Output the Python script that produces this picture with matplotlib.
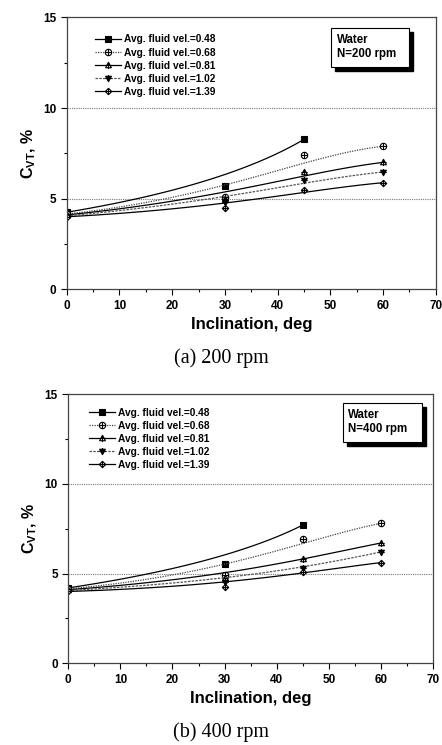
"""Tracer volume concentration vs inclination, two rotation speeds."""

from math import comb

import matplotlib
matplotlib.use("Agg")
import matplotlib.pyplot as plt
import numpy as np
from matplotlib.path import Path
from matplotlib.patches import Rectangle

plt.rcParams["font.family"] = ["Liberation Sans", "DejaVu Sans"]
plt.rcParams["font.weight"] = "bold"
plt.rcParams["mathtext.fontset"] = "custom"
plt.rcParams["mathtext.bf"] = "Liberation Sans:bold"
plt.rcParams["mathtext.rm"] = "Liberation Sans:bold"

VELOCITIES = ["0.48", "0.68", "0.81", "1.02", "1.39"]

# inclination (deg) for each series
X_SHORT = [0, 30, 45]
X_LONG = [0, 30, 45, 60]

# C_VT, % at 200 rpm
CVT_200 = {
    "0.48": [4.25, 5.70, 8.27],
    "0.68": [4.15, 5.11, 7.39, 7.89],
    "0.81": [4.10, 5.00, 6.47, 7.00],
    "1.02": [4.05, 4.83, 6.03, 6.47],
    "1.39": [4.00, 4.47, 5.48, 5.88],
}

# C_VT, % at 400 rpm
CVT_400 = {
    "0.48": [4.20, 5.51, 7.70],
    "0.68": [4.15, 4.92, 6.90, 7.80],
    "0.81": [4.10, 4.73, 5.83, 6.70],
    "1.02": [4.05, 4.55, 5.29, 6.20],
    "1.39": [4.00, 4.27, 5.07, 5.61],
}


def crossed(verts):
    """Closed outline plus a vertical and horizontal bar."""
    outline = Path(verts + [verts[0]], closed=True)
    bars = Path([(-1, 0), (1, 0), (0, -1), (0, 1)],
                [Path.MOVETO, Path.LINETO, Path.MOVETO, Path.LINETO])
    return Path.make_compound_path(outline, bars)


circle_plus = Path.make_compound_path(
    Path.unit_circle(),
    Path([(-1, 0), (1, 0), (0, -1), (0, 1)],
         [Path.MOVETO, Path.LINETO, Path.MOVETO, Path.LINETO]),
)
tri_up = crossed([(0, 1), (-0.9, -0.7), (0.9, -0.7)])
tri_down = crossed([(0, -1), (-0.9, 0.7), (0.9, 0.7)])
diamond_plus = crossed([(0, 1), (1, 0), (0, -1), (-1, 0)])

STYLES = {
    "0.48": dict(marker="s", mfc="black", ls="-", color="black", ms=3.8),
    "0.68": dict(marker=circle_plus, mfc="white", ls=(0, (1, 1)), color="#444444", ms=4.6),
    "0.81": dict(marker=tri_up, mfc="white", ls="-", color="black", ms=4.6),
    "1.02": dict(marker=tri_down, mfc="black", ls=(0, (2, 1)), color="#555555", ms=4.6),
    "1.39": dict(marker=diamond_plus, mfc="white", ls="-", color="black", ms=4.6),
}


def bezier(xs, ys, n=120):
    xs, ys = np.asarray(xs, float), np.asarray(ys, float)
    k = len(xs) - 1
    t = np.linspace(0, 1, n)
    basis = np.array([comb(k, i) * t**i * (1 - t) ** (k - i) for i in range(k + 1)])
    return basis.T @ xs, basis.T @ ys


def draw_panel(ax, data, rpm, box, legend_anchor):
    for vel in VELOCITIES:
        ys = data[vel]
        xs = X_SHORT if len(ys) == 3 else X_LONG
        st = STYLES[vel]
        cx, cy = bezier(xs, ys)
        ax.plot(cx, cy, ls=st["ls"], color=st["color"], lw=0.9)
        ax.plot(xs, ys, ls="none", marker=st["marker"], ms=st["ms"],
                mfc=st["mfc"], mec="black", mew=0.8)
        ax.plot([], [], ls=st["ls"], color=st["color"], lw=0.9,
                marker=st["marker"], ms=st["ms"], mfc=st["mfc"], mec="black",
                mew=0.8, label=f"Avg. fluid vel.={vel}")

    ax.set_xlim(0, 70)
    ax.set_ylim(0, 15)
    ax.set_xticks(range(0, 71, 10))
    ax.set_xticks(range(5, 70, 10), minor=True)
    ax.set_yticks([0, 5, 10, 15])
    ax.set_yticks([2.5, 7.5, 12.5], minor=True)
    ax.tick_params(which="major", direction="out", length=4, width=0.8, labelsize=8.5, pad=3.5)
    ax.tick_params(which="minor", direction="out", length=2.5, width=0.8)
    for lbl in ax.get_xticklabels() + ax.get_yticklabels():
        lbl.set_fontweight("bold")
    for y in (5, 10):
        ax.axhline(y, color="#777777", ls=(0, (1, 1)), lw=0.8, zorder=0)
    for sp in ax.spines.values():
        sp.set_linewidth(0.9)
        sp.set_color("#444444")

    ax.set_xlabel("Inclination, deg", fontsize=12, fontweight="bold", labelpad=4)
    ax.set_ylabel(r"C$_{\mathbf{VT}}$, %", fontsize=11.5, fontweight="bold", labelpad=4)

    leg = ax.legend(loc="upper left", bbox_to_anchor=legend_anchor, frameon=False,
                    fontsize=7.3, handlelength=2.6, handletextpad=0.25,
                    labelspacing=0.3, numpoints=1, borderaxespad=0)
    for txt in leg.get_texts():
        txt.set_fontweight("bold")

    x0, y0, w, h = box
    ax.add_patch(Rectangle((x0 + 0.012, y0 - 0.015), w, h, transform=ax.transAxes,
                           facecolor="black", edgecolor="black", zorder=5))
    ax.add_patch(Rectangle((x0, y0), w, h, transform=ax.transAxes,
                           facecolor="white", edgecolor="black", lw=0.8, zorder=6))
    ax.text(x0 + 0.015, y0 + h - 0.022, f"Water\nN={rpm} rpm", transform=ax.transAxes,
            fontsize=8.3, fontweight="bold", va="top", ha="left", zorder=7,
            linespacing=1.25)


fig = plt.figure(figsize=(4.42, 7.45), dpi=100)
ax_a = fig.add_axes([0.151, 0.6117, 0.835, 0.365])
ax_b = fig.add_axes([0.1545, 0.1097, 0.825, 0.3614])

draw_panel(ax_a, CVT_200, 200, (0.716, 0.817, 0.211, 0.144), (0.065, 0.952))
draw_panel(ax_b, CVT_400, 400, (0.753, 0.823, 0.217, 0.145), (0.045, 0.965))

fig.text(0.5, 0.519, "(a) 200 rpm", ha="center", va="center", fontsize=14.5,
         family=["Liberation Serif", "DejaVu Serif"], fontweight="normal")
fig.text(0.5, 0.017, "(b) 400 rpm", ha="center", va="center", fontsize=14.5,
         family=["Liberation Serif", "DejaVu Serif"], fontweight="normal")

fig.savefig("out.png", dpi=100)
